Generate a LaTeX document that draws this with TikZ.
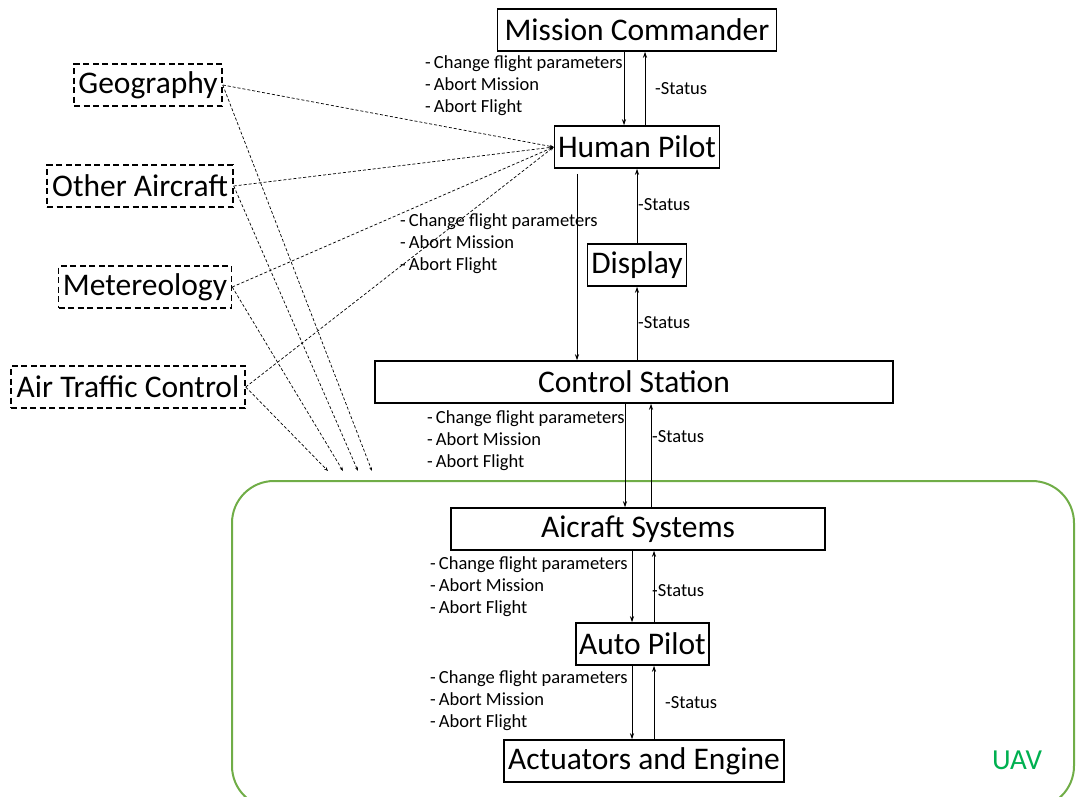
\documentclass[tikz,border=0pt]{standalone}
\usepackage{fontspec}
\setmainfont{Carlito}
\usetikzlibrary{arrows.meta}

\definecolor{uavgreen}{RGB}{112,173,71}
\definecolor{uavtext}{RGB}{0,176,80}

\newcommand{\cmdlist}{-\,Change flight parameters\\-\,Abort Mission\\-\,Abort Flight}

\tikzset{
  box/.style={draw, line width=1.5pt, minimum height=42pt, inner sep=0pt, font=\fontsize{31.5}{36}\selectfont},
  envbox/.style={box, dash pattern=on 6pt off 3.5pt},
  cmdtxt/.style={anchor=west, align=left, inner sep=0pt, font=\fontsize{18.5}{22}\selectfont},
  stattxt/.style={anchor=west, inner sep=0pt, font=\fontsize{18.5}{22}\selectfont},
  arr/.style={line width=0.8pt, -{Stealth[length=6pt,width=4pt]}},
  envline/.style={line width=0.7pt, dash pattern=on 3pt off 2pt, -{Stealth[length=4pt,width=3pt]}}
}

\begin{document}
\begin{tikzpicture}[x=1pt,y=-1pt]
\useasboundingbox (0,0) rectangle (1077,796);

%UAV boundary
\draw [uavgreen, line width=2pt, rounded corners=42pt] (232,481) rectangle (1074,808);
\node [text=uavtext, font=\fontsize{29}{32}\selectfont] (uav) at (1017,760) {UAV};

%Command chain
\node [box, minimum width=279pt] (mc) at (637,30) {Mission Commander};
\node [box, minimum width=165pt] (hp) at (637,147) {Human Pilot};
\node [box, minimum width=99pt] (dp) at (637,265) {Display};
\node [box, minimum width=518pt] (cs) at (634,382) {Control Station};
\node [box, minimum width=374pt] (as) at (638,529) {Aicraft Systems};
\node [box, minimum width=133pt] (ap) at (642.5,644) {Auto Pilot};
\node [box, minimum width=280pt] (ae) at (644,761) {Actuators and Engine};

%Environment
\node [envbox, minimum width=148pt] (geo) at (148,85) {Geography};
\node [envbox, minimum width=186pt] (oac) at (140,186) {Other Aircraft};
\node [envbox, minimum width=173pt] (met) at (145,287) {Metereology};
\node [envbox, minimum width=234pt] (atc) at (128,387) {Air Traffic Control};

\coordinate (in1) at (328,471);
\coordinate (in2) at (343,471);
\coordinate (in3) at (358,471);
\coordinate (in4) at (372,471);

% Text Node
\node [cmdtxt] (c1) at (425,86) {\cmdlist};
\node [cmdtxt] (c2) at (400,244) {\cmdlist};
\node [cmdtxt] (c3) at (427,441) {\cmdlist};
\node [cmdtxt] (c4) at (430,587) {\cmdlist};
\node [cmdtxt] (c5) at (430,701) {\cmdlist};
\node [stattxt] (s1) at (655,89) {-Status};
\node [stattxt] (s2) at (638,205) {-Status};
\node [stattxt] (s3) at (638,323) {-Status};
\node [stattxt] (s4) at (652,437) {-Status};
\node [stattxt] (s5) at (652,591) {-Status};
\node [stattxt] (s6) at (665,703) {-Status};

%Straight Lines
\draw [arr] ([xshift=-13pt]mc.south) -- ([xshift=-13pt]mc.south |- hp.north);
\draw [arr] ([xshift=8pt]mc.south |- hp.north) -- ([xshift=8pt]mc.south);
\draw [arr] ([xshift=-60pt,yshift=-5pt]hp.south) -- ([xshift=-60pt]hp.south |- cs.north);
\draw [arr] (dp.north) -- (hp.south);
\draw [arr] (dp.south |- cs.north) -- (dp.south);
\draw [arr] ([xshift=-9pt]cs.south) -- ([xshift=-9pt]cs.south |- as.north);
\draw [arr] ([xshift=17pt]cs.south |- as.north) -- ([xshift=17pt]cs.south);
\draw [arr] ([xshift=-6pt]as.south) -- ([xshift=-6pt]as.south |- ap.north);
\draw [arr] ([xshift=16pt]as.south |- ap.north) -- ([xshift=16pt]as.south);
\draw [arr] ([xshift=-10.5pt]ap.south) -- ([xshift=-10.5pt]ap.south |- ae.north);
\draw [arr] ([xshift=11.5pt]ap.south |- ae.north) -- ([xshift=11.5pt]ap.south);

%Dashed Lines
\draw [envline] (geo.east) -- (hp.west);
\draw [envline] (oac.east) -- (hp.west);
\draw [envline] (met.east) -- (hp.west);
\draw [envline] (atc.east) -- (hp.west);
\draw [envline] (geo.east) -- (in4);
\draw [envline] (oac.east) -- (in3);
\draw [envline] (met.east) -- (in2);
\draw [envline] (atc.east) -- (in1);

\end{tikzpicture}
\end{document}
